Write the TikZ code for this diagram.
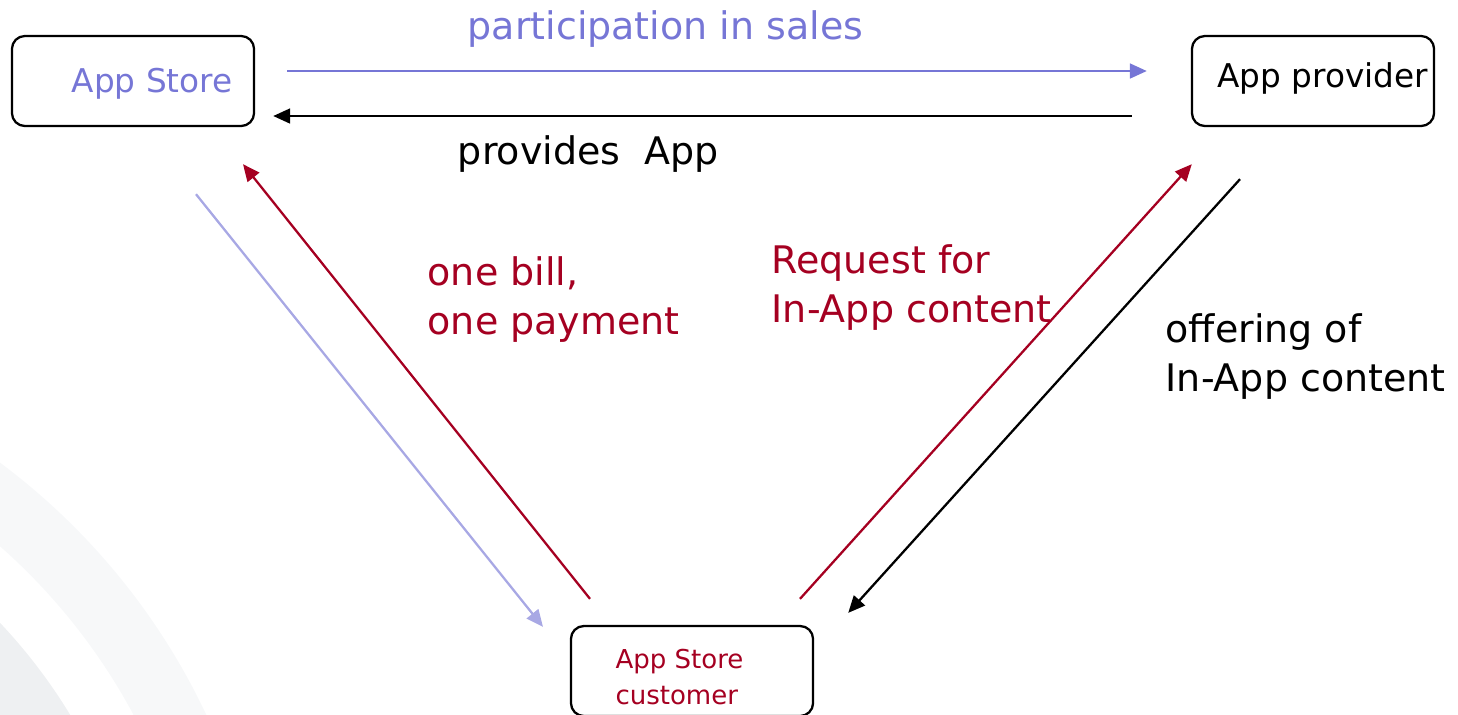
\documentclass[tikz,border=0pt]{standalone}
\usepackage{fontspec}
\setmainfont{DejaVu Sans}
\usetikzlibrary{arrows.meta,positioning}

\definecolor{storeblue}{RGB}{118,118,214}
\definecolor{paleblue}{RGB}{168,168,228}
\definecolor{billred}{RGB}{165,0,33}
\definecolor{arcgrey}{RGB}{247,248,249}
\definecolor{arcgreydark}{RGB}{238,240,242}

\tikzset{
	box/.style={draw, line width=0.65pt, rounded corners=0.13cm, minimum width=2.42cm, minimum height=0.9cm, inner sep=0pt},
	boxtext/.style={inner sep=0pt, font=\fontsize{9.3}{11}\selectfont},
	flowtext/.style={inner sep=0pt, align=left, font=\fontsize{10.8}{13.9}\selectfont},
	toptext/.style={inner sep=0pt, font=\fontsize{10.8}{13}\selectfont},
	flow/.style={line width=0.65pt, -{Stealth[inset=0pt,length=4.8pt,width=4.2pt]}},
}

\begin{document}
\begin{tikzpicture}[x=0.01cm, y=-0.01cm]
	\clip (0,0) rectangle (1458,714);
	% faint arcs in the corner
	\draw[arcgrey, line width=0.65cm] (-400,1000) circle[radius=6.37cm];
	\draw[arcgreydark, line width=0.65cm] (-400,1000) circle[radius=5.17cm];

	\node[box] (store) at (133,81) {};
	\node[box] (provider) at (1313,81) {};
	\node[box] (customer) at (692,671) {};

	\node[boxtext, text=storeblue, anchor=east] (storetext) at ([shift={(-22,3)}]store.east) {App Store};
	\node[boxtext, anchor=west] (providertext) at ([shift={(26,-3)}]provider.west) {App provider};
	\node[boxtext, text=billred, align=left, anchor=west, font=\fontsize{7.4}{10}\selectfont] (customertext) at ([shift={(45,6)}]customer.west) {App Store\\customer};

	\node[flowtext, text=billred, anchor=north west] (bill) at (427,256) {one bill,\\one payment};
	\node[flowtext, text=billred, anchor=north west] (request) at (771,244) {Request for\\In-App content};
	\node[flowtext, anchor=north west] (offering) at (1165,313) {offering of\\In-App content};

	\path[flow]
		([shift={(32,-10)}]store.east) edge[storeblue] node[toptext, text=storeblue, pos=.44, above=0.22cm] (salestext) {participation in sales} ([shift={(-44,-10)}]provider.west)
		([shift={(-59,35)}]provider.west) edge node[toptext, pos=.633, below=0.18cm] (providestext) {provides~ App} ([shift={(18,35)}]store.east)
		([shift={(63,67)}]store.south) edge[paleblue] ([shift={(-149,2)}]customer.north)
		([shift={(-102,-26)}]customer.north) edge[billred] ([shift={(110,37)}]store.south)
		([shift={(108,-26)}]customer.north) edge[billred] ([shift={(1,37)}]provider.south west)
		([shift={(-73,52)}]provider.south) edge ([shift={(34,-12)}]customer.north east);
\end{tikzpicture}
\end{document}
